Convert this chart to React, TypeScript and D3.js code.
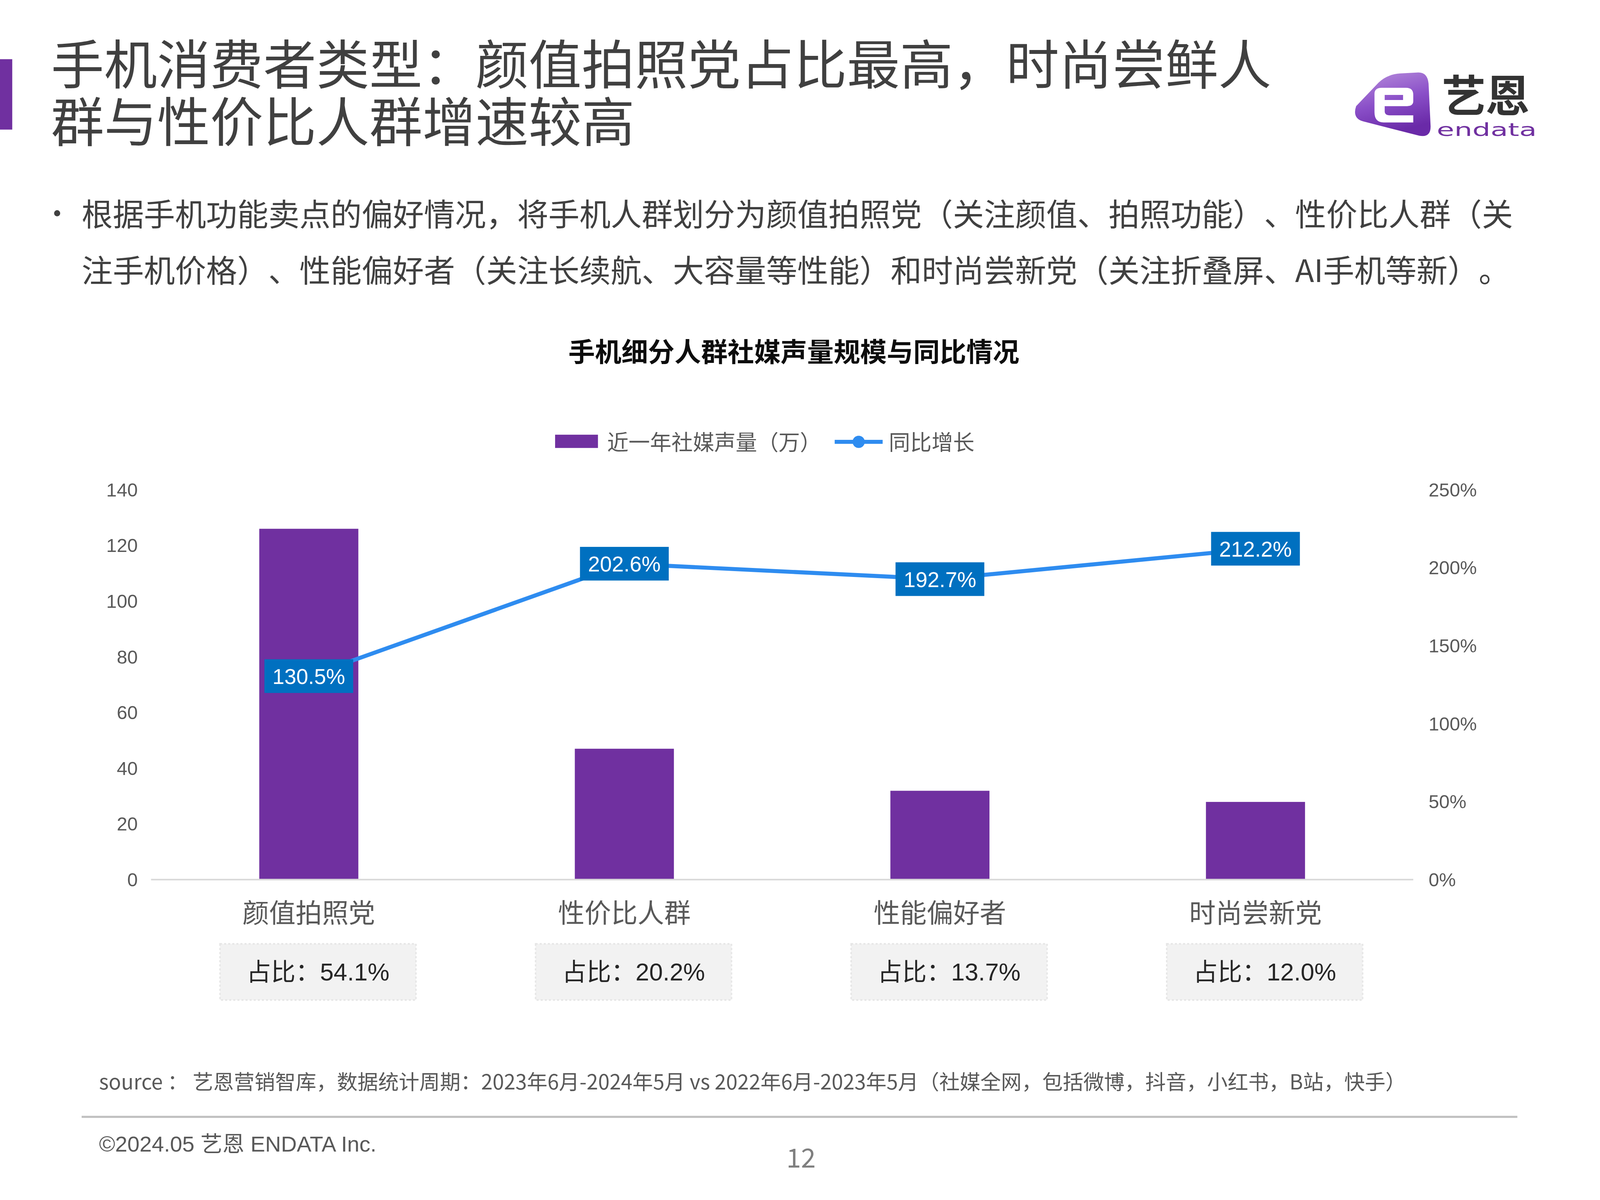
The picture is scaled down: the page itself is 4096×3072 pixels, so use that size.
import React from "react";
import * as d3 from "d3";

const categories = ["颜值拍照党", "性价比人群", "性能偏好者", "时尚尝新党"];
const volumes = [126.0, 47.0, 31.9, 27.9];
const growth = [1.305, 2.026, 1.927, 2.122];
const shares = ["54.1%", "20.2%", "13.7%", "12.0%"];
const leftTicks = [0, 20, 40, 60, 80, 100, 120, 140];
const rightTicks = [0, 0.5, 1, 1.5, 2, 2.5];

const titleLines = ["手机消费者类型：颜值拍照党占比最高，时尚尝鲜人", "群与性价比人群增速较高"];
const bulletLines = [
  "根据手机功能卖点的偏好情况，将手机人群划分为颜值拍照党（关注颜值、拍照功能）、性价比人群（关",
  "注手机价格）、性能偏好者（关注长续航、大容量等性能）和时尚尝新党（关注折叠屏、AI手机等新）。",
];
const chartTitle = "手机细分人群社媒声量规模与同比情况";
const legendBar = "近一年社媒声量（万）";
const legendLine = "同比增长";
const sourceText = "source ： 艺恩营销智库，数据统计周期：2023年6月-2024年5月 vs 2022年6月-2023年5月（社媒全网，包括微博，抖音，小红书，B站，快手）";
const footerText = "©2024.05  艺恩 ENDATA Inc.";
const pageNum = "12";

const CJK = "'Noto Sans CJK SC', 'Noto Sans', sans-serif";
const NUM = "'Liberation Sans', Arial, 'Noto Sans CJK SC', sans-serif";

export default function App() {
  const W = 1568, H = 1176;
  const x = d3.scaleBand<string>().domain(categories).range([148, 1385]).padding(0);
  const cx = (c: string) => (x(c) as number) + x.bandwidth() / 2;
  const barW = x.bandwidth() * 0.314;
  const yL = d3.scaleLinear().domain([0, 140]).range([862, 480]);
  const yR = d3.scaleLinear().domain([0, 2.5]).range([862, 480]);
  const pts: [number, number][] = categories.map((c, i) => [cx(c), yR(growth[i])]);
  const line = d3.line<[number, number]>().x((d) => d[0]).y((d) => d[1]);
  const pctFmt = d3.format(".1%");
  const tickFmt = d3.format(".0%");

  return (
    <svg
      width={4096}
      height={3072}
      viewBox={`0 0 ${W} ${H}`}
      style={{ position: "absolute", left: 0, top: 0, background: "#fff", textSpacingTrim: "space-all" } as any}
    >
      <rect x={0} y={0} width={W} height={H} fill="#fff" />
      {/* left accent bar */}
      <rect x={0} y={58} width={12} height={69} fill="#7030a0" />
      {/* title */}
      {titleLines.map((t, i) => (
        <text key={i} x={50} y={60 + i * 56} fontFamily={CJK} fontSize={52} fill="#404040" dominantBaseline="central">
          {t}
        </text>
      ))}
      {/* logo */}
      <g>
        <defs>
          <linearGradient id="lg" x1="0" y1="0" x2="0.3" y2="1">
            <stop offset="0" stopColor="#b88fdc" />
            <stop offset="0.55" stopColor="#8a4fc8" />
            <stop offset="1" stopColor="#6a2aa8" />
          </linearGradient>
        </defs>
        <path
          d="M1390,71 Q1399,71 1400,82 L1402,124 Q1402,135 1391,133 L1336,119 Q1325,116 1329,104 L1351,81 Q1359,73 1372,72 Z"
          fill="url(#lg)"
        />
        <path
          d="M1347,110 L1347,92 Q1347,86 1354,86 L1378,86 Q1385,86 1385,93 L1385,99 Q1385,104 1379,104 L1357,104 L1357,109 Q1357,113 1362,113 L1385,113 L1385,120 L1356,120 Q1347,120 1347,110 Z M1357,93 L1357,98 L1375,98 L1375,93 Z"
          fill="#fff"
          fillRule="evenodd"
        />
        <text x={1456} y={91} fontFamily={CJK} fontSize={43} fontWeight={700} fill="#333" textAnchor="middle" dominantBaseline="central">
          艺恩
        </text>
        <text x={1408} y={127} fontFamily={"'DejaVu Sans', sans-serif"} fontSize={18} fill="#7030a0" dominantBaseline="central" textLength={98} lengthAdjust="spacingAndGlyphs">
          endata
        </text>
      </g>
      {/* bullet */}
      <circle cx={56} cy={209} r={3} fill="#404040" />
      {bulletLines.map((t, i) => (
        <text key={i} x={80} y={208 + i * 55} fontFamily={CJK} fontSize={30.5} fill="#404040" dominantBaseline="central">
          {t}
        </text>
      ))}
      {/* chart title */}
      <text x={778} y={343} fontFamily={CJK} fontSize={26} fontWeight={700} fill="#0d0d0d" textAnchor="middle" dominantBaseline="central">
        {chartTitle}
      </text>
      {/* legend */}
      <rect x={544} y={426} width={42} height={13} fill="#7030a0" />
      <text x={595} y={432} fontFamily={CJK} fontSize={21} fill="#595959" dominantBaseline="central">
        {legendBar}
      </text>
      <line x1={818} y1={433} x2={865} y2={433} stroke="#2e8cf0" strokeWidth={4} />
      <circle cx={841.5} cy={433} r={6} fill="#2e8cf0" />
      <text x={871} y={432} fontFamily={CJK} fontSize={21} fill="#595959" dominantBaseline="central">
        {legendLine}
      </text>
      {/* left axis ticks */}
      {leftTicks.map((t) => (
        <text key={t} x={135} y={yL(t)} fontFamily={NUM} fontSize={18.5} fill="#595959" textAnchor="end" dominantBaseline="central">
          {t}
        </text>
      ))}
      {/* right axis ticks */}
      {rightTicks.map((t) => (
        <text key={t} x={1400} y={yR(t)} fontFamily={NUM} fontSize={18.5} fill="#595959" dominantBaseline="central">
          {tickFmt(t)}
        </text>
      ))}
      {/* bars */}
      {categories.map((c, i) => (
        <rect key={c} x={cx(c) - barW / 2} y={yL(volumes[i])} width={barW} height={yL(0) - yL(volumes[i])} fill="#7030a0" />
      ))}
      {/* baseline */}
      <line x1={148} y1={862} x2={1385} y2={862} stroke="#d9d9d9" strokeWidth={1.5} />
      {/* growth line */}
      <path d={line(pts) || ""} fill="none" stroke="#2e8cf0" strokeWidth={4} />
      {pts.map((p, i) => (
        <circle key={i} cx={p[0]} cy={p[1]} r={5} fill="#2e8cf0" />
      ))}
      {/* data labels */}
      {pts.map((p, i) => (
        <g key={i}>
          <rect x={p[0] - 43.5} y={p[1] - 16.5} width={87} height={33} fill="#0070c0" />
          <text x={p[0]} y={p[1] + 0.5} fontFamily={NUM} fontSize={21} fill="#fff" textAnchor="middle" dominantBaseline="central">
            {pctFmt(growth[i])}
          </text>
        </g>
      ))}
      {/* category labels */}
      {categories.map((c) => (
        <text key={c} x={cx(c)} y={893} fontFamily={CJK} fontSize={26} fill="#595959" textAnchor="middle" dominantBaseline="central">
          {c}
        </text>
      ))}
      {/* share boxes */}
      {categories.map((c, i) => (
        <g key={c}>
          <rect x={cx(c) + 9 - 96} y={925} width={192} height={55} fill="#f2f2f2" stroke="#e6e6e6" strokeWidth={1.5} strokeDasharray="2 2" />
          <text x={cx(c) + 9} y={952.5} fontFamily={NUM} fontSize={24} fill="#262626" textAnchor="middle" dominantBaseline="central">
            {`占比：${shares[i]}`}
          </text>
        </g>
      ))}
      {/* source */}
      <text x={97} y={1059} fontFamily={CJK} fontSize={20.2} fill="#595959" dominantBaseline="central">
        {sourceText}
      </text>
      <line x1={80} y1={1094.5} x2={1487} y2={1094.5} stroke="#bfbfbf" strokeWidth={2} />
      <text x={97} y={1121} fontFamily={NUM} fontSize={21.5} fill="#595959" dominantBaseline="central">
        {footerText}
      </text>
      <text x={785} y={1133} fontFamily={CJK} fontSize={26} fill="#7f7f7f" textAnchor="middle" dominantBaseline="central">
        {pageNum}
      </text>
    </svg>
  );
}
